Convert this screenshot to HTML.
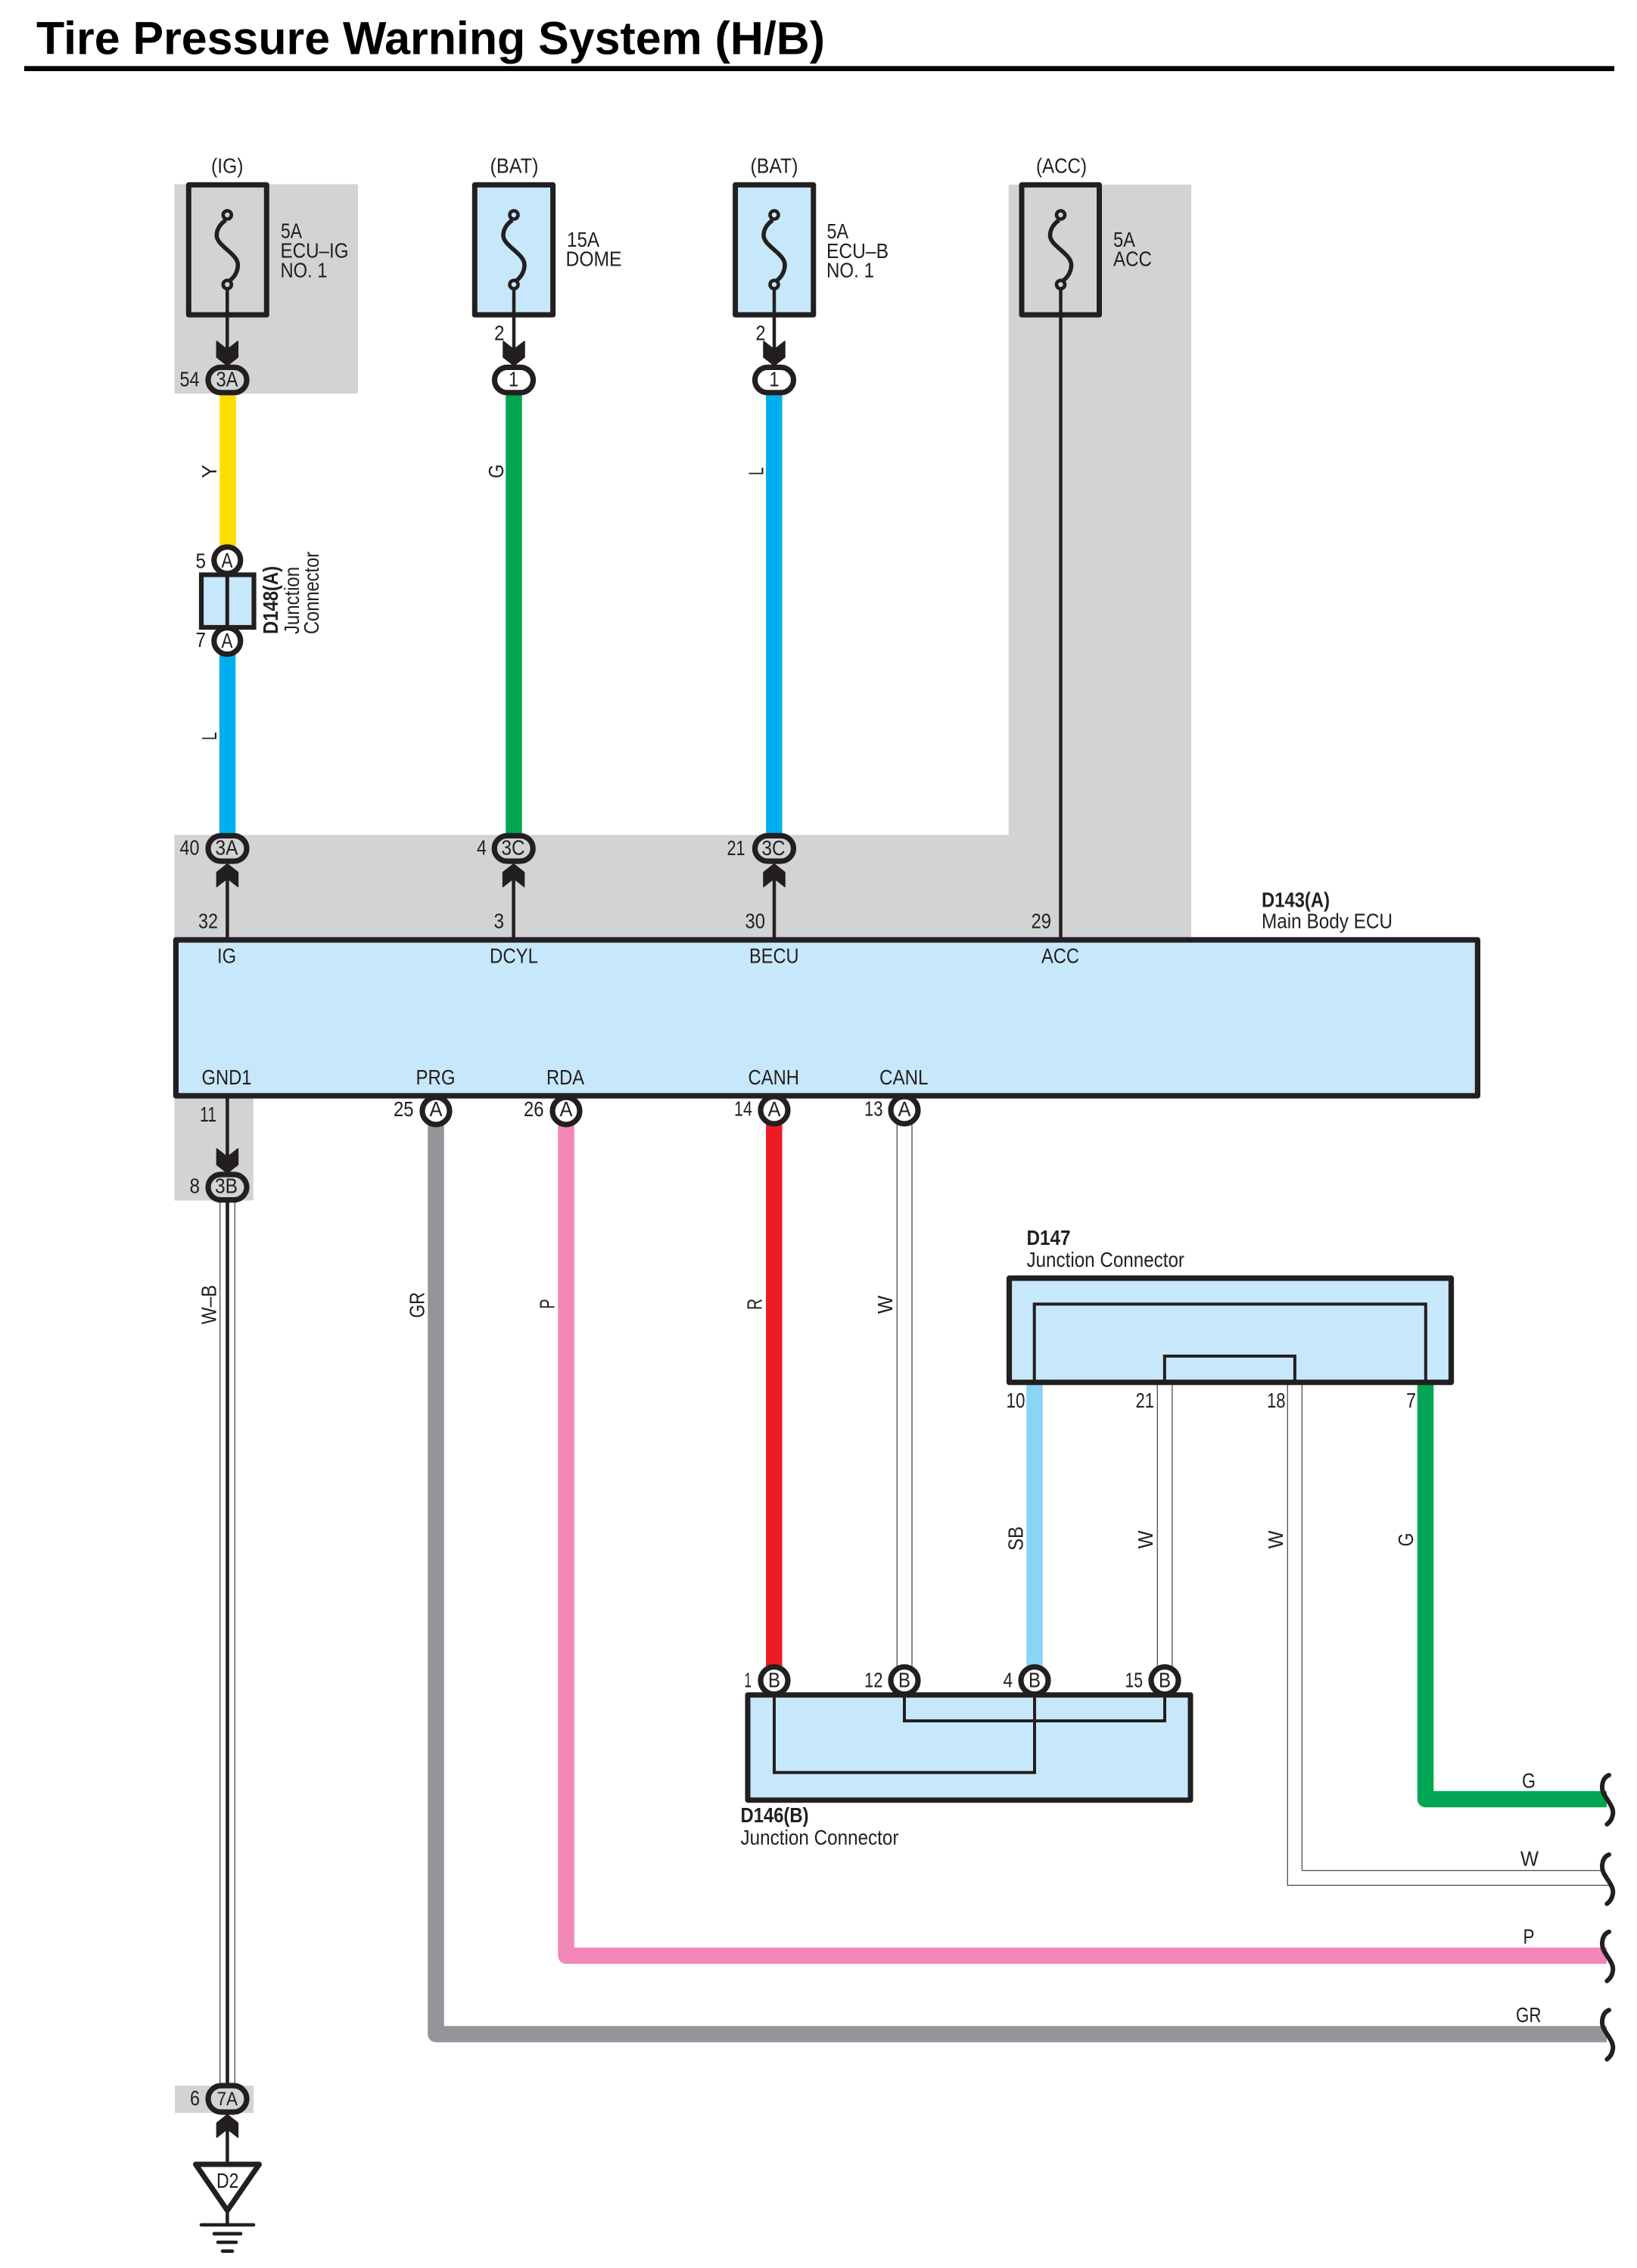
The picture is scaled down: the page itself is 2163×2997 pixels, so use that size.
<!DOCTYPE html>
<html><head><meta charset="utf-8"><title>Tire Pressure Warning System (H/B)</title>
<style>
html,body{margin:0;padding:0;background:#fff;width:2163px;height:2997px;overflow:hidden}
svg{display:block}
text{font-family:"Liberation Sans",sans-serif;font-size:28px;fill:#231F20}
.b{font-weight:bold}
.k{fill:none;stroke:#231F20}
.t{fill:none;stroke:#58595B;stroke-width:1.4}
</style></head><body>
<svg xmlns="http://www.w3.org/2000/svg" width="2163" height="2997" viewBox="0 0 2163 2997">
<defs>
<polygon id="cd" fill="#231F20" stroke="#231F20" stroke-width="1.5" stroke-linejoin="round" points="-14,-32 0,-21 14,-32 14,-11 0,0 -14,-11"/>
<polygon id="cu" fill="#231F20" stroke="#231F20" stroke-width="1.5" stroke-linejoin="round" points="-14,30 0,19 14,30 14,11 0,0 -14,11"/>
<path id="fs" class="k" stroke-width="5.6" d="M-2,291 C-10,296 -14,304 -14,311 C-14,325 14,335 14,350 C14,358 10,366 3,371"/>
<path id="sq" fill="none" stroke="#231F20" stroke-width="6" stroke-linecap="round" d="M2126,2345.7 C2117,2349 2115,2362 2119,2370 C2124,2380 2133,2388 2131,2398 C2130,2404 2127,2408 2123.3,2410.7"/>
</defs>

<!-- gray zones -->
<g fill="#D1D3D4">
<rect x="230.6" y="243.4" width="242.4" height="276.8"/>
<polygon points="1332.7,244 1574,244 1574,1240 230.4,1240 230.4,1103.3 1332.7,1103.3"/>
<rect x="230.4" y="1448" width="104.4" height="138.4"/>
<rect x="231" y="2756" width="104" height="36"/>
</g>

<!-- title -->
<text class="b" x="48" y="71.5" style="font-size:61px;fill:#000" textLength="1042" lengthAdjust="spacingAndGlyphs">Tire Pressure Warning System (H/B)</text>
<rect x="32" y="87.3" width="2101" height="6.7" fill="#000"/>

<!-- coloured wires -->
<g fill="none" stroke-width="21.5">
<path stroke="#FFDD00" d="M301,520V722"/>
<path stroke="#00AEEF" d="M300.6,865V1103"/>
<path stroke="#00A651" d="M679,520V1103"/>
<path stroke="#00AEEF" d="M1022.8,520V1103"/>
<path stroke="#ED1C24" d="M1022.8,1486V2202"/>
<path stroke="#8AD4F5" d="M1367,1828V2202"/>
<path stroke="#00A651" stroke-linejoin="round" d="M1883.5,1828V2377.5H2123"/>
<path stroke="#F287B7" stroke-linejoin="round" d="M748,1486V2584.3H2123"/>
<path stroke="#939598" stroke-linejoin="round" d="M576,1486V2688H2123"/>
</g>
<!-- thin double wires -->
<g class="t">
<path d="M290.7,1588V2755"/><path d="M310.3,1588V2755"/>
<path d="M1185.3,1486V2202"/><path d="M1205,1486V2202"/>
<path d="M1529.3,1830V2202"/><path d="M1548.8,1830V2202"/>
<path d="M1701.3,1830V2491.3H2128"/><path d="M1720.4,1830V2471.7H2118"/>
</g>
<path class="k" stroke-width="4.6" d="M300.5,1588V2755"/>

<!-- black wires -->
<g class="k" stroke-width="4.5">
<path d="M300.3,376V470"/><path d="M679,376V470"/><path d="M1023,376V470"/>
<path d="M300.4,1240V1155"/><path d="M678.6,1240V1155"/><path d="M1023,1240V1155"/>
<path d="M1401.5,376V1242"/>
<path d="M300.4,1451V1535"/>
<path d="M300.4,2812V2860"/>
<path d="M300.4,2920V2940"/>
</g>

<!-- fuses -->
<g class="k" stroke-width="7">
<rect x="249.3" y="244.3" width="103" height="171.7" stroke-linejoin="round"/>
<rect x="627.3" y="244.3" width="103.3" height="171.7" fill="#C7E8FA" stroke-linejoin="round"/>
<rect x="971.6" y="244.3" width="103.2" height="171.7" fill="#C7E8FA" stroke-linejoin="round"/>
<rect x="1350" y="244.3" width="102.5" height="171.7" stroke-linejoin="round"/>
</g>
<g class="k" stroke-width="4.5">
<path d="M300.3,376V416"/><path d="M679,376V416"/><path d="M1023,376V416"/>
</g>
<use href="#fs" x="300.3"/><use href="#fs" x="679"/><use href="#fs" x="1023"/><use href="#fs" x="1401.5"/>
<g stroke="#231F20" stroke-width="4.6">
<circle cx="300.3" cy="284" r="5.5" fill="#D1D3D4"/><circle cx="300.3" cy="376" r="5.5" fill="#D1D3D4"/>
<circle cx="679" cy="284" r="5.5" fill="#C7E8FA"/><circle cx="679" cy="376" r="5.5" fill="#C7E8FA"/>
<circle cx="1023" cy="284" r="5.5" fill="#C7E8FA"/><circle cx="1023" cy="376" r="5.5" fill="#C7E8FA"/>
<circle cx="1401.5" cy="284" r="5.5" fill="#D1D3D4"/><circle cx="1401.5" cy="376" r="5.5" fill="#D1D3D4"/>
</g>

<!-- chevrons -->
<use href="#cd" x="300.3" y="483"/><use href="#cd" x="679" y="483"/><use href="#cd" x="1023" y="483"/>
<use href="#cu" x="300.4" y="1141.7"/><use href="#cu" x="678.6" y="1141.7"/><use href="#cu" x="1023" y="1141.7"/>
<use href="#cd" x="300.4" y="1550"/>
<use href="#cu" x="300.4" y="2794.3"/>

<!-- oval connectors -->
<g stroke="#231F20" stroke-width="7.2">
<rect x="275" y="485.4" width="51" height="33.4" rx="16.7" fill="#D1D3D4"/>
<rect x="653.5" y="485.4" width="51" height="33.4" rx="16.7" fill="#fff"/>
<rect x="997.5" y="485.4" width="51" height="33.4" rx="16.7" fill="#fff"/>
<rect x="275" y="1104.4" width="51" height="33.6" rx="16.8" fill="#D1D3D4"/>
<rect x="653.2" y="1104.4" width="51" height="33.6" rx="16.8" fill="#D1D3D4"/>
<rect x="997.5" y="1104.4" width="51" height="33.6" rx="16.8" fill="#D1D3D4"/>
<rect x="275" y="1552" width="51" height="33.6" rx="16.8" fill="#D1D3D4"/>
<rect x="275" y="2756" width="51" height="35" rx="17.5" fill="#D1D3D4"/>
</g>

<!-- D148 junction -->
<rect x="266" y="759.5" width="69.5" height="69.5" fill="#C7E8FA" stroke="#231F20" stroke-width="6.2"/>
<path class="k" stroke-width="5" d="M300.3,759V830"/>
<g stroke="#231F20" stroke-width="7.2" fill="#fff">
<circle cx="300.3" cy="740.3" r="17.5"/>
<circle cx="300.3" cy="847" r="17.5"/>
</g>

<!-- Main body ECU -->
<rect x="232.4" y="1242" width="1720" height="206" fill="#C7E8FA" stroke="#231F20" stroke-width="7.2" stroke-linejoin="round"/>
<g stroke="#231F20" stroke-width="7.2" fill="#fff">
<circle cx="576" cy="1468" r="18"/>
<circle cx="748" cy="1468" r="18"/>
<circle cx="1023" cy="1467" r="18"/>
<circle cx="1195" cy="1467" r="18"/>
</g>

<!-- D147 -->
<rect x="1333.5" y="1689" width="584" height="137.7" fill="#C7E8FA" stroke="#231F20" stroke-width="7.2" stroke-linejoin="round"/>
<path class="k" stroke-width="4" d="M1366.7,1824V1723.3H1883.8V1824"/>
<path class="k" stroke-width="4" d="M1538.8,1824V1792H1710.9V1824"/>

<!-- D146 -->
<rect x="988" y="2239.7" width="585" height="139" fill="#C7E8FA" stroke="#231F20" stroke-width="7" stroke-linejoin="round"/>
<path class="k" stroke-width="4" d="M1023,2240V2342.3H1367V2240"/>
<path class="k" stroke-width="4" d="M1195,2240V2274H1539V2240"/>
<g stroke="#231F20" stroke-width="7.2" fill="#fff">
<circle cx="1023" cy="2220.7" r="18"/>
<circle cx="1195" cy="2220.7" r="18"/>
<circle cx="1367" cy="2220.7" r="18"/>
<circle cx="1539" cy="2220.7" r="18"/>
</g>

<!-- squiggles -->
<use href="#sq"/><use href="#sq" y="105"/><use href="#sq" y="207"/><use href="#sq" y="310.5"/>

<!-- ground -->
<polygon points="258.5,2860 342.5,2860 300.4,2921" fill="#fff" stroke="#231F20" stroke-width="7" stroke-linejoin="round"/>
<g class="k" stroke-linecap="round" stroke-width="4.6">
<path d="M266,2940H335"/><path d="M283,2951.7H318"/><path d="M288,2963H312"/><path d="M294,2974.7H307"/>
</g>

<!-- text -->
<text x="279" y="228.5" textLength="42.5" lengthAdjust="spacingAndGlyphs">(IG)</text>
<text x="647.5" y="228.5" textLength="64" lengthAdjust="spacingAndGlyphs">(BAT)</text>
<text x="991.5" y="228.5" textLength="63" lengthAdjust="spacingAndGlyphs">(BAT)</text>
<text x="1369" y="228.5" textLength="67" lengthAdjust="spacingAndGlyphs">(ACC)</text>

<text x="371" y="314.5" textLength="28" lengthAdjust="spacingAndGlyphs">5A</text>
<text x="370.5" y="340.5" textLength="90" lengthAdjust="spacingAndGlyphs">ECU–IG</text>
<text x="370.5" y="366.5" textLength="62" lengthAdjust="spacingAndGlyphs">NO. 1</text>
<text x="749" y="326" textLength="43" lengthAdjust="spacingAndGlyphs">15A</text>
<text x="747.5" y="351.5" textLength="74" lengthAdjust="spacingAndGlyphs">DOME</text>
<text x="1092.5" y="315" textLength="28.5" lengthAdjust="spacingAndGlyphs">5A</text>
<text x="1092" y="341" textLength="82" lengthAdjust="spacingAndGlyphs">ECU–B</text>
<text x="1092" y="366.7" textLength="63" lengthAdjust="spacingAndGlyphs">NO. 1</text>
<text x="1471" y="326" textLength="29" lengthAdjust="spacingAndGlyphs">5A</text>
<text x="1471" y="351.7" textLength="51" lengthAdjust="spacingAndGlyphs">ACC</text>

<text x="653" y="449.5" textLength="13.5" lengthAdjust="spacingAndGlyphs">2</text>
<text x="998.5" y="449.5" textLength="13" lengthAdjust="spacingAndGlyphs">2</text>
<text x="237.5" y="510.5" textLength="26" lengthAdjust="spacingAndGlyphs">54</text>
<text x="285.5" y="510.5" textLength="29" lengthAdjust="spacingAndGlyphs">3A</text>
<text x="672" y="510.5" textLength="13" lengthAdjust="spacingAndGlyphs">1</text>
<text x="1016.5" y="510.5" textLength="13" lengthAdjust="spacingAndGlyphs">1</text>

<text x="258.5" y="750.5" textLength="13.5" lengthAdjust="spacingAndGlyphs">5</text>
<text x="292.5" y="750" textLength="15" lengthAdjust="spacingAndGlyphs">A</text>
<text x="258.5" y="855" textLength="13.5" lengthAdjust="spacingAndGlyphs">7</text>
<text x="292.5" y="856" textLength="15" lengthAdjust="spacingAndGlyphs">A</text>

<text x="237.5" y="1129.5" textLength="26" lengthAdjust="spacingAndGlyphs">40</text>
<text x="284.5" y="1129.5" textLength="30" lengthAdjust="spacingAndGlyphs">3A</text>
<text x="630" y="1129.5" textLength="13" lengthAdjust="spacingAndGlyphs">4</text>
<text x="662.5" y="1129.5" textLength="31" lengthAdjust="spacingAndGlyphs">3C</text>
<text x="960.5" y="1130" textLength="24" lengthAdjust="spacingAndGlyphs">21</text>
<text x="1006.5" y="1130" textLength="31" lengthAdjust="spacingAndGlyphs">3C</text>

<text x="262" y="1226.5" textLength="26" lengthAdjust="spacingAndGlyphs">32</text>
<text x="652.5" y="1226.5" textLength="13.5" lengthAdjust="spacingAndGlyphs">3</text>
<text x="984.5" y="1226.7" textLength="26.5" lengthAdjust="spacingAndGlyphs">30</text>
<text x="1362.5" y="1226.7" textLength="26.5" lengthAdjust="spacingAndGlyphs">29</text>

<text class="b" x="1667" y="1198.3" textLength="90" lengthAdjust="spacingAndGlyphs">D143(A)</text>
<text x="1667" y="1226.7" textLength="173" lengthAdjust="spacingAndGlyphs">Main Body ECU</text>

<text x="287" y="1272.5" textLength="25" lengthAdjust="spacingAndGlyphs">IG</text>
<text x="647" y="1272.5" textLength="64" lengthAdjust="spacingAndGlyphs">DCYL</text>
<text x="990" y="1272.5" textLength="65.5" lengthAdjust="spacingAndGlyphs">BECU</text>
<text x="1376" y="1272.5" textLength="50" lengthAdjust="spacingAndGlyphs">ACC</text>
<text x="266.5" y="1433" textLength="66" lengthAdjust="spacingAndGlyphs">GND1</text>
<text x="549.5" y="1433" textLength="52" lengthAdjust="spacingAndGlyphs">PRG</text>
<text x="722" y="1433" textLength="50" lengthAdjust="spacingAndGlyphs">RDA</text>
<text x="988.5" y="1433" textLength="67.5" lengthAdjust="spacingAndGlyphs">CANH</text>
<text x="1162" y="1433" textLength="64.5" lengthAdjust="spacingAndGlyphs">CANL</text>

<text x="264" y="1482" textLength="22" lengthAdjust="spacingAndGlyphs">11</text>
<text x="520" y="1475" textLength="26.5" lengthAdjust="spacingAndGlyphs">25</text>
<text x="692" y="1475" textLength="26.5" lengthAdjust="spacingAndGlyphs">26</text>
<text x="970" y="1474.5" textLength="24" lengthAdjust="spacingAndGlyphs">14</text>
<text x="1142" y="1474.5" textLength="24.5" lengthAdjust="spacingAndGlyphs">13</text>
<text x="567.5" y="1475" textLength="17" lengthAdjust="spacingAndGlyphs">A</text>
<text x="739.5" y="1475" textLength="17" lengthAdjust="spacingAndGlyphs">A</text>
<text x="1014.5" y="1475" textLength="17" lengthAdjust="spacingAndGlyphs">A</text>
<text x="1186.5" y="1475" textLength="17" lengthAdjust="spacingAndGlyphs">A</text>

<text x="250.5" y="1576.5" textLength="13.5" lengthAdjust="spacingAndGlyphs">8</text>
<text x="284" y="1576.5" textLength="30" lengthAdjust="spacingAndGlyphs">3B</text>
<text x="251" y="2782" textLength="13" lengthAdjust="spacingAndGlyphs">6</text>
<text x="286.5" y="2782" style="font-size:25px" textLength="27.5" lengthAdjust="spacingAndGlyphs">7A</text>
<text x="286" y="2891" textLength="29.5" lengthAdjust="spacingAndGlyphs">D2</text>

<text class="b" x="1356.5" y="1645" textLength="58" lengthAdjust="spacingAndGlyphs">D147</text>
<text x="1356.5" y="1674" textLength="208.5" lengthAdjust="spacingAndGlyphs">Junction Connector</text>
<text x="1329.5" y="1860" textLength="25" lengthAdjust="spacingAndGlyphs">10</text>
<text x="1500.5" y="1860" textLength="24.5" lengthAdjust="spacingAndGlyphs">21</text>
<text x="1674" y="1860" textLength="24.5" lengthAdjust="spacingAndGlyphs">18</text>
<text x="1858" y="1860" textLength="13" lengthAdjust="spacingAndGlyphs">7</text>

<text x="983.5" y="2229.5" textLength="9.5" lengthAdjust="spacingAndGlyphs">1</text>
<text x="1142" y="2229.5" textLength="24.5" lengthAdjust="spacingAndGlyphs">12</text>
<text x="1325.5" y="2229.5" textLength="12.5" lengthAdjust="spacingAndGlyphs">4</text>
<text x="1486.5" y="2229.5" textLength="23.5" lengthAdjust="spacingAndGlyphs">15</text>
<text x="1015" y="2229.5" textLength="16" lengthAdjust="spacingAndGlyphs">B</text>
<text x="1187" y="2229.5" textLength="16" lengthAdjust="spacingAndGlyphs">B</text>
<text x="1359" y="2229.5" textLength="16" lengthAdjust="spacingAndGlyphs">B</text>
<text x="1531" y="2229.5" textLength="16" lengthAdjust="spacingAndGlyphs">B</text>

<text class="b" x="978.5" y="2408" textLength="90" lengthAdjust="spacingAndGlyphs">D146(B)</text>
<text x="978.5" y="2437.3" textLength="209" lengthAdjust="spacingAndGlyphs">Junction Connector</text>

<text x="2011" y="2362.3" textLength="18" lengthAdjust="spacingAndGlyphs">G</text>
<text x="2009" y="2465.7" textLength="24" lengthAdjust="spacingAndGlyphs">W</text>
<text x="2012.5" y="2568.7" textLength="15" lengthAdjust="spacingAndGlyphs">P</text>
<text x="2003" y="2672" textLength="33.5" lengthAdjust="spacingAndGlyphs">GR</text>

<!-- rotated labels -->
<text transform="translate(286,632) rotate(-90)" textLength="18" lengthAdjust="spacingAndGlyphs">Y</text>
<text transform="translate(665,632) rotate(-90)" textLength="18.5" lengthAdjust="spacingAndGlyphs">G</text>
<text transform="translate(1008.3,628) rotate(-90)" textLength="10.5" lengthAdjust="spacingAndGlyphs">L</text>
<text transform="translate(286,978) rotate(-90)" textLength="10.5" lengthAdjust="spacingAndGlyphs">L</text>
<text class="b" transform="translate(367,838) rotate(-90)" textLength="90" lengthAdjust="spacingAndGlyphs">D148(A)</text>
<text transform="translate(395,838) rotate(-90)" textLength="89" lengthAdjust="spacingAndGlyphs">Junction</text>
<text transform="translate(420.8,838) rotate(-90)" textLength="109" lengthAdjust="spacingAndGlyphs">Connector</text>
<text transform="translate(285.7,1750) rotate(-90)" textLength="52" lengthAdjust="spacingAndGlyphs">W–B</text>
<text transform="translate(560.7,1741.5) rotate(-90)" textLength="34" lengthAdjust="spacingAndGlyphs">GR</text>
<text transform="translate(732.3,1729.5) rotate(-90)" textLength="13" lengthAdjust="spacingAndGlyphs">P</text>
<text transform="translate(1006.5,1731) rotate(-90)" textLength="15" lengthAdjust="spacingAndGlyphs">R</text>
<text transform="translate(1179,1736) rotate(-90)" textLength="24" lengthAdjust="spacingAndGlyphs">W</text>
<text transform="translate(1351.5,2049) rotate(-90)" textLength="32" lengthAdjust="spacingAndGlyphs">SB</text>
<text transform="translate(1523,2046.5) rotate(-90)" textLength="24" lengthAdjust="spacingAndGlyphs">W</text>
<text transform="translate(1695,2046.5) rotate(-90)" textLength="24" lengthAdjust="spacingAndGlyphs">W</text>
<text transform="translate(1867,2043.5) rotate(-90)" textLength="18" lengthAdjust="spacingAndGlyphs">G</text>
</svg>
</body></html>
